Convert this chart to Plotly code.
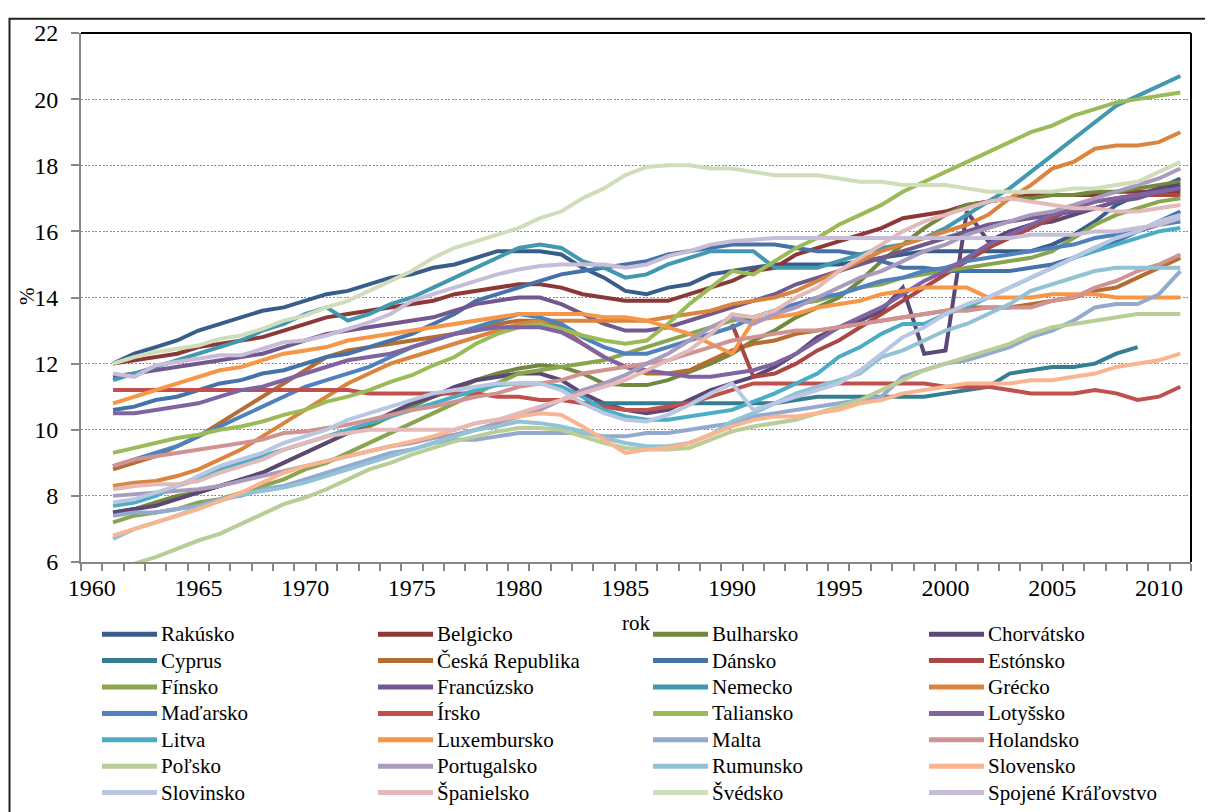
import plotly.graph_objects as go

years = list(range(1961, 2012))

Rakusko = [12.0,12.3,12.5,12.7,13.0,13.2,13.4,13.6,13.7,13.9, 14.1,14.2,14.4,14.6,14.7,14.9,15.0,15.2,15.4,15.4,
           15.4,15.3,14.9,14.6,14.2,14.1,14.3,14.4,14.7,14.8, 14.9,15.0,15.0,15.0,15.0,15.1,15.2,15.3,15.4,15.4,
           15.4,15.4,15.4,15.4,15.6,15.9,16.3,16.8,17.1,17.3,17.6]
Belgicko = [12.0,12.1,12.2,12.3,12.5,12.6,12.7,12.8,13.0,13.2, 13.4,13.5,13.6,13.7,13.8,13.9,14.1,14.2,14.3,14.4,
            14.4,14.3,14.1,14.0,13.9,13.9,13.9,14.1,14.3,14.5, 14.8,14.9,15.3,15.5,15.7,15.9,16.1,16.4,16.5,16.6,
            16.8,16.9,17.0,17.1,17.1,17.1,17.1,17.2,17.2,17.2,17.2]
Bulharsko = [7.5,7.6,7.8,8.0,8.1,8.3,8.5,8.7,9.0,9.3, 9.6,9.9,10.1,10.4,10.7,11.0,11.2,11.5,11.7,11.85,
             11.95,11.9,11.7,11.4,11.35,11.35,11.5,11.75,12.0,12.3, 12.7,13.0,13.4,13.7,14.0,14.5,15.1,15.6,16.1,16.5,
             16.8,16.9,17.0,17.0,17.1,17.1,17.2,17.2,17.3,17.4,17.5]
Chorvatsko = [7.5,7.6,7.7,7.9,8.1,8.3,8.5,8.7,9.0,9.3, 9.6,9.9,10.2,10.5,10.8,11.0,11.3,11.5,11.6,11.7,
              11.7,11.5,11.1,10.8,10.6,10.5,10.6,10.9,11.2,11.4, 11.6,11.9,12.3,12.8,13.1,13.3,13.6,14.3,12.3,12.4,
              16.6,15.7,16.0,16.2,16.3,16.5,16.7,16.9,17.1,17.3,17.4]
Cyprus = [None]*22 + [10.8,10.8,10.8,10.8,10.8,10.8,10.8,10.8,10.8,10.8, 10.9,11.0,11.0,11.0,11.0,11.0,11.0,
                      11.1,11.2,11.3,11.7,11.8,11.9,11.9,12.0,12.3,12.5, None, None]
Ceska = [8.8,9.0,9.2,9.5,9.8,10.2,10.6,11.0,11.4,11.8, 12.2,12.4,12.5,12.6,12.7,12.8,12.9,13.0,13.2,13.3,
         13.3,13.1,12.6,12.2,11.9,11.7,11.7,11.8,12.1,12.4, 12.6,12.7,12.9,13.0,13.1,13.2,13.3,13.4,13.5,13.6,
         13.7,13.7,13.7,13.8,13.9,14.0,14.2,14.3,14.6,14.9,15.2]
Dansko = [10.6,10.7,10.9,11.0,11.2,11.4,11.5,11.7,11.8,12.0, 12.2,12.3,12.5,12.7,12.9,13.2,13.5,13.9,14.1,14.3,
          14.5,14.7,14.8,14.9,15.0,15.1,15.3,15.4,15.5,15.6, 15.6,15.6,15.5,15.4,15.4,15.3,15.1,14.9,14.9,14.8,
          14.8,14.8,14.8,14.9,15.0,15.2,15.5,15.7,16.0,16.3,16.6]
Estonsko = [None]*29 + [13.2,11.6,11.7,12.0,12.4,12.7,13.1,13.5,13.9,14.3,14.7,
                        15.1,15.5,15.8,16.1,16.4,16.7,16.9,17.0,17.1,17.1,17.1]
Finsko = [7.2,7.4,7.5,7.6,7.8,7.9,8.1,8.3,8.5,8.8, 9.0,9.3,9.6,9.9,10.2,10.5,10.8,11.1,11.4,11.7,
          11.8,11.9,12.0,12.1,12.3,12.5,12.7,12.9,13.1,13.3, 13.4,13.6,13.8,13.9,14.1,14.3,14.4,14.6,14.7,14.8,
          14.9,15.0,15.1,15.2,15.4,15.8,16.2,16.5,16.7,16.9,17.0]
Francuzsko = [11.6,11.7,11.8,11.9,12.0,12.1,12.2,12.3,12.5,12.7, 12.9,13.0,13.1,13.2,13.3,13.4,13.6,13.8,13.9,14.0,
              14.0,13.8,13.5,13.2,13.0,13.0,13.1,13.3,13.5,13.7, 13.9,14.1,14.4,14.6,14.8,15.0,15.2,15.4,15.6,15.8,
              16.0,16.2,16.3,16.4,16.5,16.6,16.7,16.9,17.0,17.2,17.3]
Nemecko = [11.5,11.7,11.9,12.1,12.3,12.5,12.7,13.0,13.2,13.5, 13.7,13.3,13.5,13.8,14.0,14.3,14.6,14.9,15.2,15.5,
           15.6,15.5,15.1,14.9,14.6,14.7,15.0,15.2,15.4,15.4, 15.4,14.9,14.9,14.9,15.1,15.3,15.5,15.6,15.8,16.1,
           16.5,16.9,17.3,17.8,18.3,18.8,19.3,19.8,20.1,20.4,20.7]
Grecko = [8.3,8.4,8.45,8.6,8.8,9.1,9.4,9.8,10.2,10.6, 11.0,11.4,11.7,12.0,12.2,12.4,12.6,12.8,13.0,13.2,
          13.3,13.3,13.3,13.3,13.3,13.3,13.4,13.5,13.6,13.8, 13.9,14.0,14.2,14.5,14.8,15.1,15.4,15.6,15.8,16.0,
          16.2,16.5,17.0,17.4,17.9,18.1,18.5,18.6,18.6,18.7,19.0]
Madarsko = [8.9,9.1,9.3,9.5,9.8,10.1,10.4,10.7,11.0,11.3, 11.5,11.7,11.9,12.2,12.5,12.7,12.9,13.1,13.3,13.5,
            13.4,13.2,12.8,12.5,12.3,12.3,12.5,12.7,12.9,13.1, 13.4,13.6,13.8,14.0,14.1,14.3,14.5,14.6,14.8,14.9,
            15.1,15.2,15.3,15.4,15.5,15.6,15.8,15.9,16.0,16.2,16.3]
Irsko = [11.2,11.2,11.2,11.2,11.2,11.2,11.2,11.2,11.2,11.2, 11.2,11.2,11.1,11.1,11.1,11.1,11.1,11.1,11.0,11.0,
         10.9,10.9,10.8,10.7,10.6,10.6,10.7,10.8,11.0,11.2, 11.4,11.4,11.4,11.4,11.4,11.4,11.4,11.4,11.4,11.3,
         11.3,11.3,11.2,11.1,11.1,11.1,11.2,11.1,10.9,11.0,11.3]
Taliansko = [9.3,9.45,9.6,9.75,9.85,10.0,10.1,10.25,10.45,10.6, 10.85,11.0,11.2,11.45,11.65,11.95,12.2,12.6,12.9,13.1,
             13.2,13.05,12.85,12.7,12.6,12.7,13.2,13.8,14.3,14.8, 14.7,15.1,15.5,15.8,16.2,16.5,16.8,17.2,17.5,17.8,
             18.1,18.4,18.7,19.0,19.2,19.5,19.7,19.9,20.0,20.1,20.2]
Lotyssko = [10.5,10.5,10.6,10.7,10.8,11.0,11.2,11.3,11.5,11.7, 11.9,12.1,12.2,12.3,12.5,12.7,12.9,13.0,13.1,13.1,
            13.1,12.95,12.6,12.2,11.9,11.8,11.7,11.6,11.6,11.7, 11.8,12.0,12.3,12.7,13.1,13.4,13.7,14.1,14.5,14.8,
            15.2,15.6,15.9,16.2,16.5,16.7,16.9,17.0,17.1,17.2,17.3]
Litva = [7.7,7.8,8.0,8.3,8.5,8.8,9.0,9.2,9.4,9.6, 9.8,10.0,10.2,10.4,10.6,10.8,11.0,11.2,11.35,11.4,
         11.4,11.3,11.0,10.6,10.4,10.3,10.3,10.4,10.5,10.6, 10.85,11.1,11.4,11.7,12.2,12.5,12.9,13.2,13.2,13.5,
         13.7,14.0,14.3,14.6,14.9,15.2,15.4,15.6,15.8,16.0,16.1]
Luxembursko = [10.8,11.0,11.2,11.4,11.6,11.8,11.9,12.1,12.3,12.4, 12.5,12.7,12.8,12.9,13.0,13.1,13.2,13.3,13.4,13.5,
               13.5,13.5,13.5,13.4,13.4,13.3,13.1,12.9,12.6,12.3, 13.3,13.4,13.5,13.7,13.8,13.9,14.1,14.2,14.3,14.3,
               14.3,14.0,14.0,14.0,14.1,14.1,14.1,14.0,14.0,14.0,14.0]
Malta = [7.4,7.5,7.5,7.6,7.7,7.9,8.0,8.2,8.3,8.5, 8.7,8.9,9.1,9.3,9.4,9.6,9.7,9.7,9.8,9.9,
         9.9,9.9,9.9,9.8,9.8,9.9,9.9,10.0,10.1,10.2, 10.4,10.5,10.6,10.7,10.8,10.9,11.0,11.6,11.8,12.0,
         12.1,12.3,12.5,12.8,13.0,13.3,13.7,13.8,13.8,14.1,14.8]
Holandsko = [8.9,9.1,9.2,9.3,9.4,9.5,9.6,9.7,9.9,9.95, 10.05,10.15,10.3,10.45,10.6,10.7,10.85,11.0,11.1,11.3,
             11.4,11.5,11.7,11.8,11.9,12.0,12.1,12.3,12.5,12.7, 12.8,12.9,13.0,13.0,13.1,13.2,13.3,13.4,13.5,13.6,
             13.6,13.7,13.7,13.7,13.9,14.0,14.3,14.5,14.8,15.0,15.3]
Polsko = [5.8,5.95,6.15,6.4,6.65,6.85,7.15,7.45,7.75,7.95, 8.2,8.5,8.8,9.0,9.25,9.45,9.65,9.8,9.95,10.05,
          10.05,10.0,9.8,9.6,9.45,9.4,9.4,9.45,9.7,9.95, 10.1,10.2,10.3,10.5,10.7,10.9,11.2,11.5,11.8,12.0,
          12.2,12.4,12.6,12.9,13.1,13.2,13.3,13.4,13.5,13.5,13.5]
Portugalsko = [8.0,8.05,8.1,8.15,8.2,8.3,8.45,8.6,8.75,8.9, 9.05,9.2,9.35,9.5,9.6,9.75,9.85,10.0,10.2,10.4,
               10.6,10.9,11.2,11.4,11.65,12.0,12.3,12.7,13.1,13.4, 13.2,13.5,13.7,14.0,14.3,14.6,14.8,15.1,15.4,15.6,
               15.9,16.1,16.3,16.5,16.6,16.8,17.0,17.2,17.4,17.6,17.9]
Rumunsko = [6.7,7.0,7.2,7.4,7.65,7.85,8.05,8.15,8.25,8.4, 8.6,8.8,9.0,9.2,9.4,9.6,9.8,10.0,10.1,10.25,
            10.2,10.1,9.95,9.75,9.6,9.5,9.5,9.6,9.85,10.25, 10.5,10.8,11.1,11.3,11.5,11.7,12.2,12.4,12.7,13.0,
            13.2,13.5,13.8,14.2,14.4,14.6,14.8,14.9,14.9,14.9,14.9]
Slovensko = [6.8,7.0,7.2,7.4,7.6,7.85,8.1,8.4,8.7,8.9, 9.05,9.2,9.35,9.5,9.65,9.8,10.0,10.2,10.3,10.4,
             10.5,10.45,10.1,9.7,9.3,9.4,9.45,9.6,9.85,10.1, 10.3,10.4,10.4,10.5,10.6,10.8,10.9,11.1,11.2,11.3,
             11.4,11.4,11.4,11.5,11.5,11.6,11.7,11.9,12.0,12.1,12.3]
Slovinsko = [7.8,7.9,8.1,8.3,8.6,8.9,9.1,9.3,9.6,9.8, 10.0,10.3,10.5,10.7,10.9,11.1,11.2,11.3,11.4,11.4,
             11.4,11.2,10.8,10.5,10.3,10.25,10.45,10.75,11.1,11.4, 10.6,10.8,11.0,11.2,11.4,11.8,12.3,12.8,13.1,13.5,
             13.8,14.0,14.3,14.6,14.9,15.2,15.5,15.8,16.0,16.3,16.5]
Spanielsko = [8.2,8.3,8.35,8.35,8.45,8.7,8.9,9.1,9.4,9.6, 9.8,9.9,10.0,10.0,10.0,10.0,10.0,10.2,10.3,10.5,
              10.7,10.9,11.1,11.3,11.5,11.8,12.1,12.4,12.9,13.5, 13.4,13.6,14.0,14.3,14.8,15.2,15.6,16.0,16.3,16.5,
              16.7,16.9,17.0,16.9,16.8,16.7,16.7,16.6,16.6,16.7,16.8]
Svedsko = [12.0,12.2,12.35,12.45,12.55,12.75,12.85,13.05,13.3,13.45, 13.7,13.9,14.2,14.5,14.8,15.2,15.5,15.7,15.9,16.1,
           16.4,16.6,17.0,17.3,17.7,17.95,18.0,18.0,17.9,17.9, 17.8,17.7,17.7,17.7,17.6,17.5,17.5,17.4,17.4,17.4,
           17.3,17.2,17.2,17.2,17.2,17.3,17.3,17.4,17.5,17.8,18.1]
Spojene = [11.7,11.6,11.95,12.05,12.15,12.25,12.25,12.45,12.65,12.7, 12.85,13.05,13.25,13.5,13.9,14.1,14.3,14.5,14.7,14.85,
           14.95,15.0,15.0,15.0,14.9,15.0,15.25,15.4,15.6,15.7, 15.75,15.8,15.8,15.8,15.8,15.8,15.8,15.8,15.8,15.8,
           15.8,15.8,15.8,15.9,15.9,15.9,16.0,16.0,16.1,16.2,16.4]

names = ["Rakúsko", "Belgicko", "Bulharsko", "Chorvátsko", "Cyprus", "Česká Republika", "Dánsko",
         "Estónsko", "Fínsko", "Francúzsko", "Nemecko", "Grécko", "Maďarsko", "Írsko", "Taliansko",
         "Lotyšsko", "Litva", "Luxembursko", "Malta", "Holandsko", "Poľsko", "Portugalsko", "Rumunsko",
         "Slovensko", "Slovinsko", "Španielsko", "Švédsko", "Spojené Kráľovstvo"]
series = [Rakusko, Belgicko, Bulharsko, Chorvatsko, Cyprus, Ceska, Dansko, Estonsko, Finsko, Francuzsko,
          Nemecko, Grecko, Madarsko, Irsko, Taliansko, Lotyssko, Litva, Luxembursko, Malta, Holandsko,
          Polsko, Portugalsko, Rumunsko, Slovensko, Slovinsko, Spanielsko, Svedsko, Spojene]
colors = ["#385D8A", "#8C3836", "#71893F", "#5C4776", "#357D91", "#B66D31", "#4572A7",
          "#AA4643", "#89A54E", "#71588F", "#4198AF", "#DB843D", "#4F81BD", "#C0504D", "#9BBB59",
          "#8064A2", "#4BACC6", "#F79646", "#93A9CF", "#D19392", "#B9CD96", "#A99BBD", "#91C3D5",
          "#F9B590", "#B9C7E2", "#E3BAB9", "#CFDDBA", "#C7BDD8"]
y_ticks = [6, 8, 10, 12, 14, 16, 18, 20, 22]
x_ticks = [1960, 1965, 1970, 1975, 1980, 1985, 1990, 1995, 2000, 2005, 2010]

# the page body adds an 8 px margin, so the figure is laid out 8 px up/left of the target
OFF = 8
W, H = 1213 - OFF, 812 - OFF
L, R, T, B = 81 - OFF, 22, 27 - OFF, 250
PW, PH = W - L - R, H - T - B
FONT = "Liberation Serif, Times New Roman, serif"


def px(xp):
    """target-image x pixel -> paper coordinate"""
    return (xp - OFF - L) / PW


def py(yp):
    """target-image y pixel -> paper coordinate"""
    return (H - B - (yp - OFF)) / PH


fig = go.Figure()
for n, s, c in zip(names, series, colors):
    fig.add_trace(go.Scatter(x=years, y=s, name=n, mode="lines",
                             line=dict(color=c, width=4), connectgaps=False, showlegend=False))

shapes = []
annotations = []
# plot-area border (top and right) in black
shapes.append(dict(type="line", xref="paper", yref="paper", x0=0, x1=1, y0=1, y1=1,
                   line=dict(color="black", width=2)))
shapes.append(dict(type="line", xref="paper", yref="paper", x0=1, x1=1, y0=0, y1=1,
                   line=dict(color="black", width=2)))
# outer chart frame (left and top edges visible)
shapes.append(dict(type="rect", xref="paper", yref="paper", x0=px(9.5), x1=px(1240), y0=py(840), y1=py(12.5),
                   line=dict(color="#222222", width=2), fillcolor="rgba(0,0,0,0)"))

# legend drawn as 4 columns x 7 rows
col_x = [102, 378, 653, 929]
row_y0, row_dy = 635, 26.7
for i, (n, c) in enumerate(zip(names, colors)):
    r, k = divmod(i, 4)
    x0 = col_x[k]
    yy = row_y0 + r * row_dy
    shapes.append(dict(type="line", xref="paper", yref="paper", x0=px(x0), x1=px(x0 + 55),
                       y0=py(yy), y1=py(yy), line=dict(color=c, width=5)))
    annotations.append(dict(xref="paper", yref="paper", x=px(x0 + 57), y=py(yy), text=n,
                            showarrow=False, xanchor="left", yanchor="middle",
                            font=dict(family=FONT, size=21, color="black")))

# y-axis title placed like the reference (overlapping the "14" label)
annotations.append(dict(xref="paper", yref="paper", x=px(27), y=py(293), text="%", textangle=-90,
                        showarrow=False, xanchor="center", yanchor="middle",
                        font=dict(family=FONT, size=21, color="black")))

fig.update_layout(
    width=W, height=H,
    margin=dict(l=L, r=R, t=T, b=B, pad=0),
    paper_bgcolor="white", plot_bgcolor="white",
    font=dict(family=FONT, color="black"),
    shapes=shapes, annotations=annotations,
    showlegend=False,
)
fig.update_xaxes(
    range=[1959.5, 2011.5], tickmode="array", tickvals=x_ticks, ticktext=[str(v) for v in x_ticks],
    ticks="", tickfont=dict(family=FONT, size=24, color="black"), ticklabelstandoff=3,
    showgrid=False, zeroline=False, showline=True, linecolor="#868686", linewidth=2,
    minor=dict(tick0=1959.5, dtick=1, ticks="outside", ticklen=7, tickwidth=2, tickcolor="#868686", showgrid=False),
    title=dict(text="rok", font=dict(family=FONT, size=21, color="black"), standoff=16),
)
fig.update_yaxes(
    range=[6, 22], tickmode="array", tickvals=y_ticks, ticks="outside", ticklen=8, tickwidth=2,
    tickcolor="#868686", tickfont=dict(family=FONT, size=24, color="black"), ticklabelstandoff=8,
    showgrid=True, gridcolor="#8c8c8c", gridwidth=1.3, griddash="2px,1.6px",
    zeroline=False, showline=True, linecolor="#868686", linewidth=2,
)

fig.write_html("out.html")
